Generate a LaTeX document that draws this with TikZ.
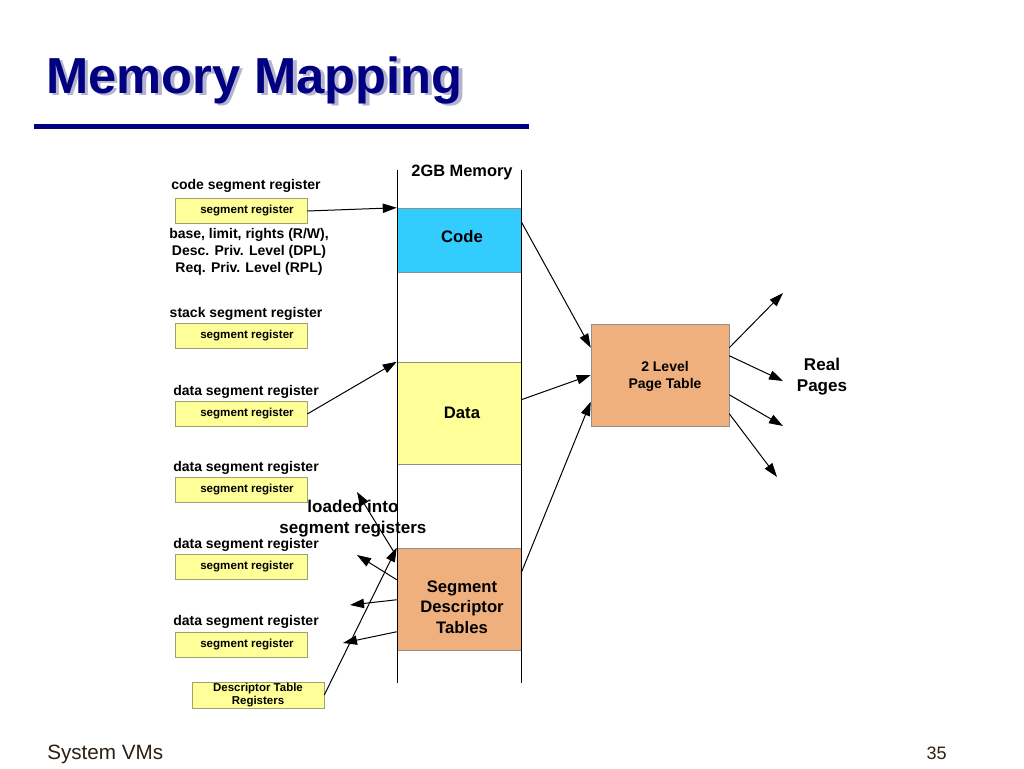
\documentclass[tikz,border=0pt]{standalone}
\usepackage{fontspec}
\setmainfont{Liberation Sans}
\usetikzlibrary{arrows.meta,calc}
\definecolor{navy}{HTML}{000080}
\definecolor{shadowc}{HTML}{B4B4D0}
\definecolor{regfill}{HTML}{FFFF99}
\definecolor{regdraw}{HTML}{A0A070}
\definecolor{codefill}{HTML}{33CCFF}
\definecolor{orangefill}{HTML}{F0B07E}
\definecolor{boxdraw}{HTML}{909090}
\definecolor{footc}{HTML}{2B2015}
\begin{document}
\begin{tikzpicture}[x=0.75pt,y=-0.75pt,
  reg/.style={draw=regdraw, fill=regfill, minimum width=132*0.75pt, minimum height=25*0.75pt, inner sep=0pt,
    font=\fontsize{8.7}{10.5}\selectfont\bfseries, align=center},
  lab/.style={font=\fontsize{10.5}{12.75}\selectfont\bfseries, align=center, inner sep=0pt},
  memlab/.style={font=\fontsize{12.5}{15.5}\selectfont\bfseries, align=center, inner sep=0pt},
  membox/.style={draw=boxdraw, minimum width=124*0.75pt, inner sep=0pt},
  arr/.style={-{Triangle[length=10.5pt,width=7pt]}, line width=0.75pt},
  colline/.style={line width=0.65pt}
]
\useasboundingbox (0,0) rectangle (1024,768);
\fill[white] (0,0) rectangle (1024,768);

% title (with its drop shadow, in one text)
\node[anchor=base west, inner sep=0pt, text=navy, font=\fontsize{38}{44}\selectfont\bfseries] (title) at (46,93)
  {\makebox[0pt][l]{\hspace{2.6pt}\raisebox{-1.9pt}{\color{shadowc}Memory Mapping}}Memory Mapping};
\fill[navy] (34,124) rectangle (529,129);

% memory column
\coordinate (mtl) at (397,170);
\coordinate (mbl) at (397,683);
\coordinate (mtr) at (521,170);
\coordinate (mbr) at (521,683);
\node[lab, font=\fontsize{12.3}{15}\selectfont\bfseries, fill=white, inner sep=1pt] (memtitle) at (462,172) {2GB Memory};

\node[membox, fill=codefill, minimum height=64*0.75pt] (code) at (459,240) {};
\node[memlab] (codelab) at (462,237) {Code};
\node[membox, fill=regfill, minimum height=102*0.75pt] (data) at (459,413) {};
\node[memlab] (datalab) at (462,413) {Data};
\node[membox, fill=orangefill, minimum height=102*0.75pt] (sdt) at (459,599) {};
\node[memlab] (sdtlab) at (462,607) {Segment\\Descriptor\\Tables};
\draw[colline] (mtl) -- (mbl);
\draw[colline] (mtr) -- (mbr);

% page table
\node[draw=boxdraw, fill=orangefill, minimum width=138*0.75pt, minimum height=102*0.75pt, inner sep=0pt] (pt) at (660,375) {};
\node[lab, font=\fontsize{10.5}{12.75}\selectfont\bfseries] (ptlab) at (665,376) {2 Level\\Page Table};
\node[memlab, font=\fontsize{12.8}{15.75}\selectfont\bfseries] (real) at (822,377) {Real\\Pages};

% registers
\node[lab] (l1) at (246,186) {code segment register};
\node[reg] (r1) at (241,211) {\hspace*{9pt}\raisebox{-1.5pt}{segment register}};
\node[lab] (l1b) at (249,252) {base, limit, rights (R/W),\\Desc. Priv. Level (DPL)\\Req. Priv. Level (RPL)};
\node[lab] (l2) at (246,314) {stack segment register};
\node[reg] (r2) at (241,336) {\hspace*{9pt}\raisebox{-1.5pt}{segment register}};
\node[lab] (l3) at (246,392) {data segment register};
\node[reg] (r3) at (241,414) {\hspace*{9pt}\raisebox{-1.5pt}{segment register}};
\node[lab] (l4) at (246,468) {data segment register};
\node[reg] (r4) at (241,490) {\hspace*{9pt}\raisebox{-1.5pt}{segment register}};
\node[lab] (l5) at (246,545) {data segment register};
\node[reg] (r5) at (241,567) {\hspace*{9pt}\raisebox{-1.5pt}{segment register}};
\node[lab] (l6) at (246,622) {data segment register};
\node[reg] (r6) at (241,645) {\hspace*{9pt}\raisebox{-1.5pt}{segment register}};
\node[reg, minimum height=26*0.75pt, font=\fontsize{8.6}{10.2}\selectfont\bfseries] (dtr) at (258,695) {Descriptor Table\\Registers};

\node[memlab, font=\fontsize{12.8}{15.75}\selectfont\bfseries] (loaded) at (353,519) {loaded into\\segment registers};

% arrows into memory
\draw[arr] (r1.east) -- (code.north west);
\draw[arr] (r3.east) -- (data.north west);
\draw[arr] (dtr.east) -- (sdt.north west);

% arrows out of SDT
\coordinate (t1) at (357,492);
\coordinate (t2) at (357,555);
\coordinate (t3) at (350,605);
\coordinate (t4) at (343,643);
\draw[arr] ($(sdt.north west)+(-3,4)$) -- (t1);
\draw[arr] ($(sdt.north west)+(0,32)$) -- (t2);
\draw[arr] ($(sdt.north west)+(0,52)$) -- (t3);
\draw[arr] ($(sdt.north west)+(0,84)$) -- (t4);

% arrows into page table
\draw[arr] ($(code.north east)+(0,14)$) -- ($(pt.north west)+(0,24)$);
\draw[arr] ($(data.north east)+(0,38)$) -- (pt.west);
\draw[arr] ($(sdt.north east)+(0,25)$) -- ($(pt.north west)+(0,78)$);

% arrows out of page table
\coordinate (p1) at (783,293);
\coordinate (p2) at (783,381);
\coordinate (p3) at (783,426);
\coordinate (p4) at (777,477);
\draw[arr] ($(pt.north east)+(0,24)$) -- (p1);
\draw[arr] ($(pt.north east)+(0,32)$) -- (p2);
\draw[arr] ($(pt.north east)+(0,71)$) -- (p3);
\draw[arr] ($(pt.north east)+(0,90)$) -- (p4);

% footer
\node[anchor=base west, inner sep=0pt, text=footc, font=\fontsize{15.5}{18}\selectfont] (foot) at (47,759) {System VMs};
\node[anchor=base east, inner sep=0pt, text=footc, font=\fontsize{13.5}{16}\selectfont] (pagenum) at (947,759) {35};
\end{tikzpicture}
\end{document}
